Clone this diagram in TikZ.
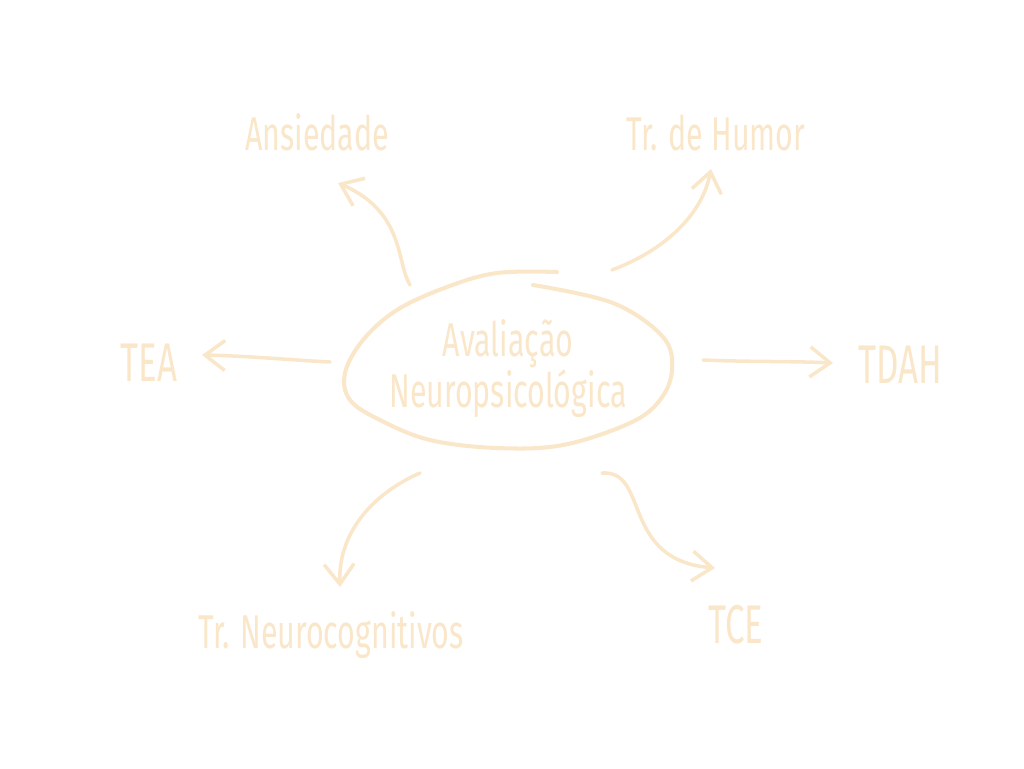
\documentclass[tikz,border=0pt]{standalone}
\usepackage{fontspec}
\setmainfont{Fira Sans}[FakeStretch=0.64]
\usetikzlibrary{arrows.meta,positioning}
\definecolor{creme}{RGB}{250,230,200}
\tikzset{
  rotulo/.style={font=\fontsize{27}{30}\selectfont,text=creme,inner sep=0pt,anchor=base},
  grande/.style={rotulo,font=\fontsize{31}{34}\selectfont},
  seta/.style={draw=creme,line width=2pt,line cap=round,-{Straight Barb[length=4mm,width=6mm]}},
  contorno/.style={draw=creme,line width=2.3pt,line cap=round},
}

\begin{document}
\begin{tikzpicture}[x=0.02cm,y=-0.02cm]
  \useasboundingbox (0,0) rectangle (1024,768);
  % centro
  \node (ctr) [rotulo,align=center,font=\fontsize{27}{28.5}\selectfont] at (508,407) {Avaliação\\Neuropsicológica};
  \draw[contorno] plot[smooth,tension=0.6] coordinates {(533,285) (613,303) (663,337) (672,370) (660,400)
    (630,423) (563,445) (497,448) (430,440) (380,420) (350,400) (345,373) (363,340) (397,310)
    (447,287) (497,273) (557,272)};
  % rotulos
  \node (ansi) [rotulo] at (317,150) {Ansiedade};
  \node (humor) [rotulo] at (716,150) {Tr. de Humor};
  \node (tea) [grande] at (149,381) {TEA};
  \node (tdah) [grande] at (900,383) {TDAH};
  \node (neuro) [rotulo] at (331,648) {Tr. Neurocognitivos};
  \node (tce) [grande] at (736,643) {TCE};
  % pontas das setas
  \coordinate (a1) at (410,285); \coordinate (a2) at (338,183);
  \coordinate (h1) at (612,270); \coordinate (h2) at (711,169);
  \coordinate (t1) at (330,362); \coordinate (t2) at (202,355);
  \coordinate (d1) at (703,360); \coordinate (d2) at (833,363);
  \coordinate (n1) at (420,473); \coordinate (n2) at (340,587);
  \coordinate (c1) at (602,473); \coordinate (c2) at (715,568);
  \draw[seta] (a1) .. controls (396,262) and (405,212) .. (a2);
  \draw[seta] (h1) .. controls (665,250) and (702,215) .. (h2);
  \draw[seta] (t1) .. controls (290,360) and (250,356) .. (t2);
  \draw[seta] (d1) .. controls (750,362) and (790,361) .. (d2);
  \draw[seta] (n1) .. controls (370,495) and (338,535) .. (n2);
  \draw[seta] (c1) .. controls (650,470) and (620,560) .. (c2);
\end{tikzpicture}
\end{document}
